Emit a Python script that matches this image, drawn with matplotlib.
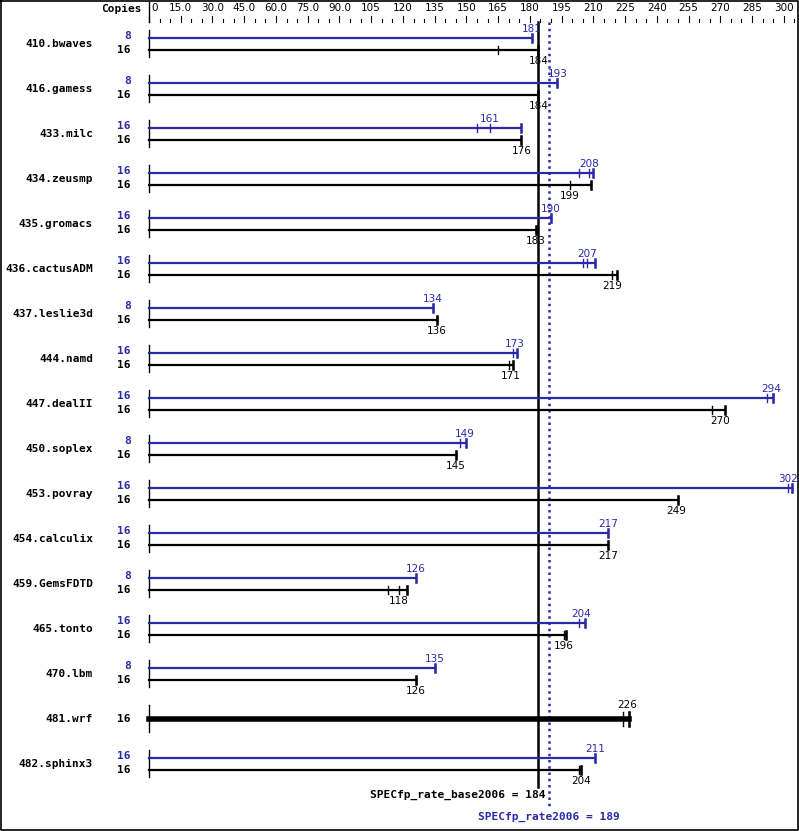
import numpy as np
import matplotlib
matplotlib.use('Agg')
import matplotlib.pyplot as plt

benchmarks = ['410.bwaves', '416.gamess', '433.milc', '434.zeusmp', '435.gromacs',
              '436.cactusADM', '437.leslie3d', '444.namd', '447.dealII', '450.soplex',
              '453.povray', '454.calculix', '459.GemsFDTD', '465.tonto', '470.lbm',
              '481.wrf', '482.sphinx3']
peak_copies = [8, 8, 16, 16, 16, 16, 8, 16, 16, 8, 16, 16, 8, 16, 8, None, 16]
base_copies = [16] * 17
peak_val = [181, 193, 161, 208, 190, 207, 134, 173, 294, 149, 302, 217, 126, 204, 135, None, 211]
peak_runs = [[181], [193], [155, 161, 176], [203, 208, 210], [190], [205, 207, 211], [134],
             [172, 174], [292, 295], [147, 150], [302, 304], [217], [126], [203, 206], [135],
             None, [211]]
base_val = [184, 184, 176, 199, 183, 219, 136, 171, 270, 145, 249, 217, 118, 196, 126, 226, 204]
base_runs = [[165, 184], [184], [176], [199, 209], [183], [219, 221], [136], [170, 172],
             [266, 272], [145], [250], [217], [113, 118, 122], [196, 197], [126], [224, 227],
             [203, 204]]
base_score = 184
peak_score = 189

BLUE = '#2a2aa8'
px = 2.116   # pixels per unit
x0 = 149     # pixel of zero

W, H = 799, 831
fig = plt.figure(figsize=(W / 100, H / 100), dpi=100)
ax = fig.add_axes([0, 0, 1, 1])
ax.set_xlim(-x0 / px, (W - x0) / px)
ax.set_ylim(H, 0)
ax.axis('off')

def xp(pix):
    return (pix - x0) / px

mono = dict(family='DejaVu Sans Mono', fontweight='bold', fontsize=8)
num = dict(family='DejaVu Sans', fontsize=7.5)

# top scale
ax.text(xp(142), 9, 'Copies', ha='right', va='center', **mono)
ax.plot([0, 0], [2, 22], color='black', lw=1)
for v in range(0, 306, 5):
    major = v % 15 == 0
    ax.plot([v, v], [22 - (6 if major else 3), 22], color='black', lw=0.8)
for v in range(0, 306, 15):
    lab = '0' if v == 0 else (f'{v:.1f}' if v < 100 else str(v))
    ax.text(v + (1 if v == 0 else 0), 8, lab, ha='left' if v == 0 else 'center',
            va='center', **num)

# reference lines
ax.plot([base_score, base_score], [22, 787], color='black', lw=1.8)
ax.plot([peak_score, peak_score], [22, 808], color=BLUE, lw=1.8, ls=(0, (1, 1.5)))
ax.text(xp(545), 795, f'SPECfp_rate_base2006 = {base_score}', ha='right', va='center', **mono)
ax.text(peak_score, 817, f'SPECfp_rate2006 = {peak_score}', ha='center', va='center',
        color=BLUE, **mono)

for i, name in enumerate(benchmarks):
    yp = 38 + 45 * i
    yb = yp + 12
    ax.text(xp(93), yp + 6, name, ha='right', va='center', **mono)
    ax.plot([0, 0], [yp - 8, yp + 19], color='black', lw=1)
    if peak_val[i] is not None:
        runs = peak_runs[i]
        ax.plot([0, max(runs)], [yp, yp], color=BLUE, lw=1.6)
        for r in runs:
            ax.plot([r, r], [yp - 4, yp + 4], color=BLUE, lw=1)
        ax.plot([max(runs)] * 2, [yp - 4, yp + 4], color=BLUE, lw=1.8)
        ax.text(peak_val[i], yp - 9, str(peak_val[i]), ha='center', va='center', color=BLUE, **num)
        ax.text(xp(131), yp - 2, str(peak_copies[i]), ha='right', va='center', color=BLUE, **mono)
        runs = base_runs[i]
        ax.plot([0, max(runs)], [yb, yb], color='black', lw=1.6)
        for r in runs:
            ax.plot([r, r], [yb - 4, yb + 4], color='black', lw=1)
        ax.plot([max(runs)] * 2, [yb - 4, yb + 4], color='black', lw=1.8)
        ax.text(base_val[i], yb + 11, str(base_val[i]), ha='center', va='center', **num)
        ax.text(xp(131), yb, str(base_copies[i]), ha='right', va='center', **mono)
    else:
        ym = yp + 6
        runs = base_runs[i]
        ax.plot([0, max(runs)], [ym, ym], color='black', lw=4)
        for r in runs:
            ax.plot([r, r], [ym - 7, ym + 7], color='black', lw=1)
        ax.plot([max(runs)] * 2, [ym - 7, ym + 7], color='black', lw=1.8)
        ax.text(base_val[i], ym - 14, str(base_val[i]), ha='center', va='center', **num)
        ax.text(xp(131), ym, str(base_copies[i]), ha='right', va='center', **mono)

# border
ax.plot([xp(0.5), xp(W - 1), xp(W - 1), xp(0.5), xp(0.5)], [0.5, 0.5, H - 1, H - 1, 0.5],
        color='black', lw=1.2, clip_on=False)

fig.savefig('out.png', dpi=100)
